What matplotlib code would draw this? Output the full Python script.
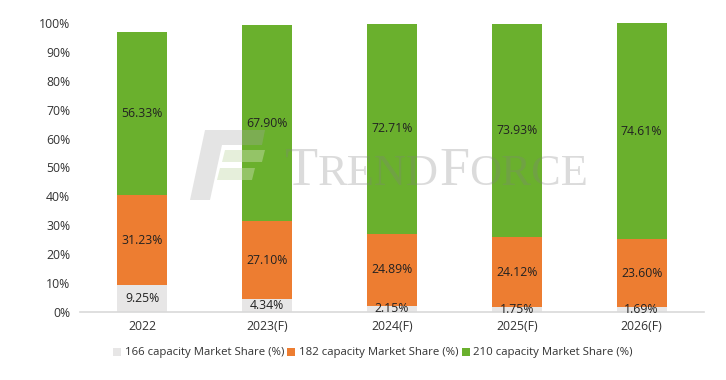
import matplotlib
matplotlib.use("Agg")
import matplotlib.pyplot as plt
from matplotlib.patches import Polygon
import numpy as np

categories = ["2022", "2023(F)", "2024(F)", "2025(F)", "2026(F)"]
s166 = [9.25, 4.34, 2.15, 1.75, 1.69]
s182 = [31.23, 27.10, 24.89, 24.12, 23.60]
s210 = [56.33, 67.90, 72.71, 73.93, 74.61]
series_names = ["166 capacity Market Share (%)", "182 capacity Market Share (%)", "210 capacity Market Share (%)"]
colors = ["#E7E6E6", "#ED7D31", "#6AB02D"]
yticks = [0, 10, 20, 30, 40, 50, 60, 70, 80, 90, 100]

plt.rcParams['font.family'] = ['Open Sans', 'DejaVu Sans']

W, H = 726, 380
fig = plt.figure(figsize=(W/100, H/100), dpi=100)
ax = fig.add_axes([80/W, (H-312)/H, (704-80)/W, (312-23)/H])

x = np.arange(len(categories))
bottom = np.zeros(len(categories))
for vals, name, c in zip([s166, s182, s210], series_names, colors):
    ax.bar(x, vals, width=0.4, bottom=bottom, color=c, label=name, zorder=2)
    for xi, b, v in zip(x, bottom, vals):
        ax.text(xi, b + v/2, f"{v:.2f}%", ha="center", va="center", fontsize=8.8, color="#222222", zorder=5)
    bottom += np.array(vals)

ax.set_xlim(-0.5, len(categories)-0.5)
ax.set_ylim(0, 100)
ax.set_yticks(yticks)
ax.set_yticklabels([f"{t}%" for t in yticks])
ax.set_xticks(x)
ax.set_xticklabels(categories)
ax.tick_params(axis="both", length=0, labelsize=8.8, colors="#333333")
ax.tick_params(axis="y", pad=7)
ax.tick_params(axis="x", pad=6)
for s in ["top", "right", "left"]:
    ax.spines[s].set_visible(False)
ax.spines["bottom"].set_color("#D9D9D9")
ax.spines["bottom"].set_linewidth(1.2)

leg = fig.legend(loc="center", bbox_to_anchor=(373/W, (H-353)/H), ncol=3, frameon=False,
                 fontsize=8.2, handlelength=0.7, handleheight=0.7, handletextpad=0.3,
                 columnspacing=0.3, labelcolor="#333333")

# watermark logo (decorative)
def fp(px, py):
    return (px/W, (H-py)/H)
gray = "#A8A8A8"
poly = Polygon([fp(205, 130), fp(265, 130), fp(262, 145), fp(222, 145), fp(210, 200), fp(190, 200)],
               closed=True, transform=fig.transFigure, facecolor=gray, alpha=0.3, edgecolor="none", zorder=3)
fig.add_artist(poly)
poly2 = Polygon([fp(225, 150), fp(265, 150), fp(262, 162), fp(222, 162)],
                closed=True, transform=fig.transFigure, facecolor="#C8DDB0", alpha=0.45, edgecolor="none", zorder=3)
fig.add_artist(poly2)
poly3 = Polygon([fp(220, 168), fp(255, 168), fp(252, 180), fp(217, 180)],
                closed=True, transform=fig.transFigure, facecolor="#C8DDB0", alpha=0.45, edgecolor="none", zorder=3)
fig.add_artist(poly3)

fig.canvas.draw()
renderer = fig.canvas.get_renderer()
pieces = [("T", 39), ("REND", 32), ("F", 39), ("ORCE", 32)]
cx = 285
for txt, sz in pieces:
    t = fig.text(cx/W, (H-185)/H, txt, fontsize=sz, family="Liberation Serif", color="#808080",
                 alpha=0.28, ha="left", va="baseline", zorder=4)
    bb = t.get_window_extent(renderer)
    cx += bb.width

fig.savefig("out.png", dpi=100)
